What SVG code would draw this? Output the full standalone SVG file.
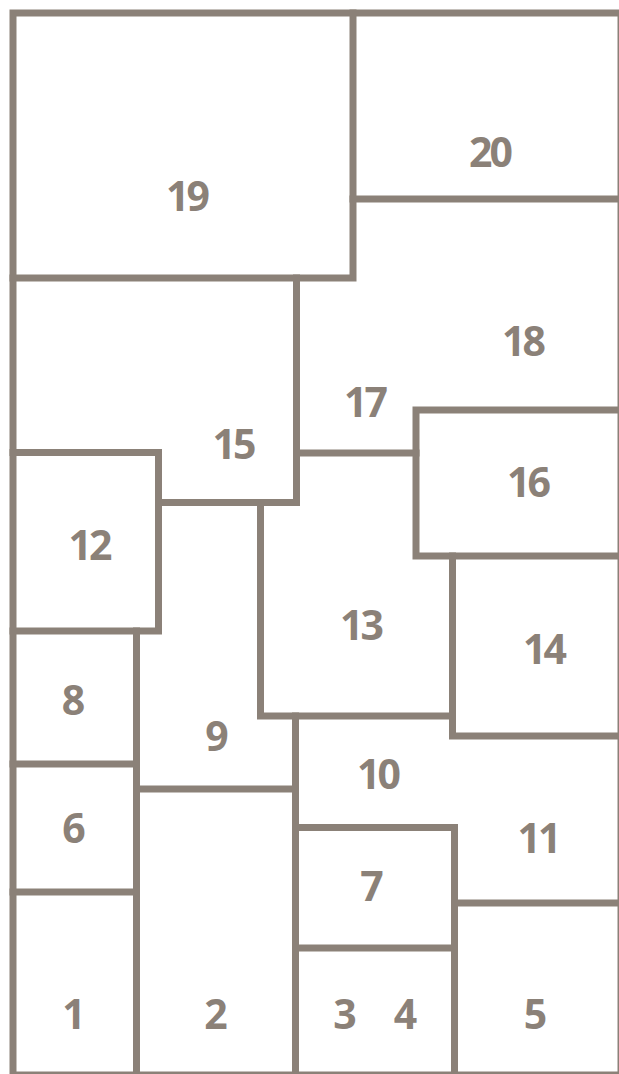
<svg xmlns="http://www.w3.org/2000/svg" width="619" height="1074" viewBox="0 0 619 1074">
  <style>
    .wall { stroke: #8b8178; stroke-width: 7; fill: none; stroke-linecap: square; }
    .lbl { font-family: "Open Sans", "DejaVu Sans", sans-serif; font-weight: 700; font-size: 41px; fill: #8b8178; text-anchor: middle; }
    .two { letter-spacing: -3px; }
  </style>
  <rect width="619" height="1074" fill="#ffffff"/>
  <g id="walls">
    <rect class="wall" x="13" y="13" width="608" height="1062"/>
    <path class="wall" d="M353 13V278H13"/>
    <path class="wall" d="M353 199H621"/>
    <path class="wall" d="M296.5 278V502.5H158.5"/>
    <path class="wall" d="M13 452.5H158.5V631H13"/>
    <path class="wall" d="M296.5 453H416"/>
    <path class="wall" d="M621 410H416V556H621"/>
    <path class="wall" d="M260.5 502.5V716H452.5"/>
    <path class="wall" d="M452.5 556V736H621"/>
    <path class="wall" d="M136.5 631V1075"/>
    <path class="wall" d="M13 764H136.5"/>
    <path class="wall" d="M13 892H136.5"/>
    <path class="wall" d="M136.5 789H295.5"/>
    <path class="wall" d="M295.5 716V1075"/>
    <path class="wall" d="M295.5 827.5H454.5V1075"/>
    <path class="wall" d="M295.5 948H454.5"/>
    <path class="wall" d="M454.5 903H621"/>
  </g>
  <g id="labels">
    <text id="room-19" class="lbl two" x="186.5" y="211">19</text>
    <text id="room-20" class="lbl two" x="489.5" y="167">20</text>
    <text id="room-18" class="lbl two" x="522.5" y="356">18</text>
    <text id="room-17" class="lbl two" x="364.5" y="417">17</text>
    <text id="room-15" class="lbl two" x="233" y="459">15</text>
    <text id="room-16" class="lbl two" x="527.5" y="497">16</text>
    <text id="room-12" class="lbl two" x="89" y="560">12</text>
    <text id="room-13" class="lbl two" x="360.5" y="640">13</text>
    <text id="room-14" class="lbl two" x="543.5" y="664">14</text>
    <text id="room-8" class="lbl" x="73.5" y="715">8</text>
    <text id="room-9" class="lbl" x="217" y="751">9</text>
    <text id="room-10" class="lbl two" x="377.5" y="789">10</text>
    <text id="room-6" class="lbl" x="74" y="843">6</text>
    <text id="room-11" class="lbl two" x="538" y="853">11</text>
    <text id="room-7" class="lbl" x="372" y="901">7</text>
    <text id="room-1" class="lbl" x="74" y="1029">1</text>
    <text id="room-2" class="lbl" x="216" y="1029">2</text>
    <text id="room-3" class="lbl" x="345" y="1029">3</text>
    <text id="room-4" class="lbl" x="405.5" y="1029">4</text>
    <text id="room-5" class="lbl" x="535.5" y="1029">5</text>
  </g>
</svg>
